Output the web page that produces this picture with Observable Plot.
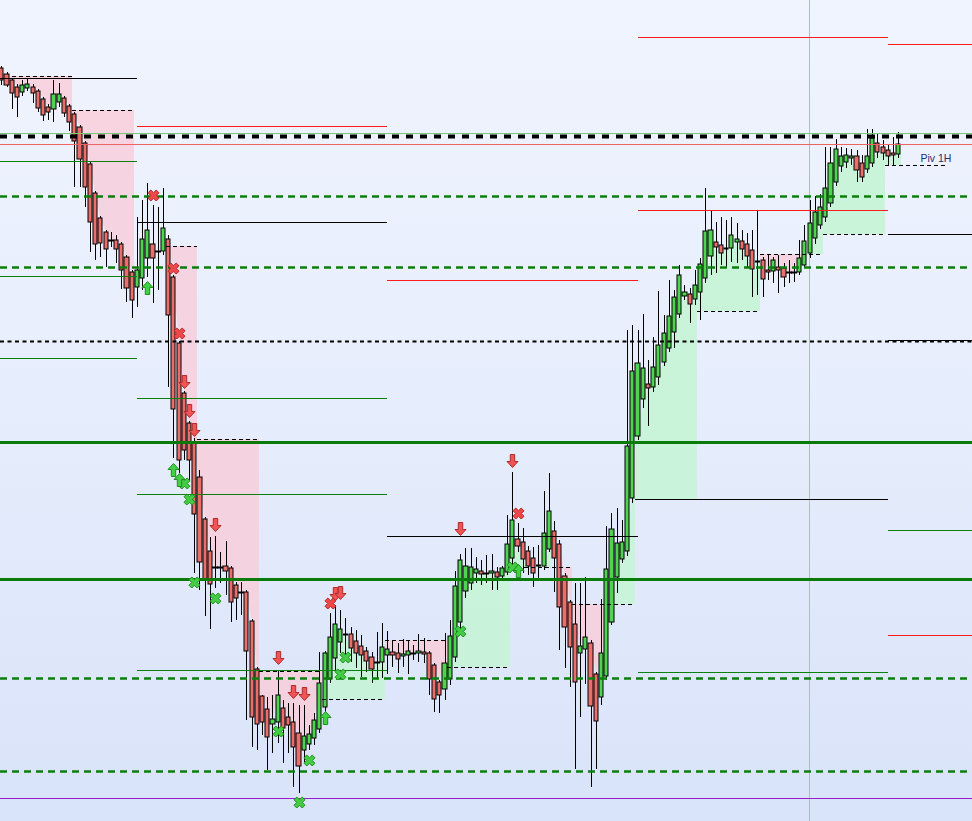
<!DOCTYPE html>
<html>
<head>
<meta charset="utf-8">
<script src="https://cdn.jsdelivr.net/npm/d3@7"></script>
<script src="https://cdn.jsdelivr.net/npm/@observablehq/plot@0.6"></script>
<style>
html,body{margin:0;padding:0;background:#e4ebfb;overflow:hidden}
#chart svg{display:block}
</style>
</head>
<body>
<div id="chart"></div>
<script>
// ---------- Candles (5-minute bars), price in chart units ----------
const open = [
 932,926,920,913,908,912,913,909,901,893,
 891,898,902,894,886,873,857,836,807,782,
 768,760,760,756,743,728,713,722,742,756,
 749,749,761,723,657,607,577,557,523,481,
 449,433,433,434,432,415,408,408,379,331,
 304,291,276,278,292,283,278,267,250,256,
 262,271,293,321,342,358,366,366,359,354,
 349,343,338,338,345,348,347,344,345,347,
 347,348,347,335,318,311,321,343,378,409,
 417,427,429,427,427,428,424,428,442,461,
 458,449,442,435,434,451,469,456,424,398,
 376,347,351,357,326,303,324,378,423,441,
 449,502,564,601,616,613,623,638,652,668,
 686,704,706,701,708,722,744,758,755,751,
 752,758,759,756,750,739,740,730,729,733,
 732,728,728,728,735,747,762,775,783,797,
 818,834,838,842,844,837,831,837,857,853,
 850,847,846];
const high = [
 934,928,922,916,920,921,916,911,903,896,
 920,917,904,896,888,875,859,838,809,784,
 770,768,765,758,745,730,783,800,817,795,
 793,812,765,725,659,609,579,562,530,483,
 463,464,448,459,434,418,418,410,381,333,
 305,303,305,330,300,297,297,295,295,275,
 287,348,349,387,395,390,382,373,370,365,
 353,348,368,377,369,360,357,361,359,355,
 366,362,349,337,320,367,380,429,446,452,
 452,443,440,445,446,433,434,485,528,477,
 472,454,453,455,509,527,479,460,427,400,
 417,417,423,360,328,401,474,487,492,480,
 670,675,670,686,640,663,709,685,720,710,
 735,715,712,730,742,812,790,778,783,780,
 783,777,770,767,770,790,743,745,743,745,
 737,740,737,760,775,800,804,806,853,853,
 861,853,852,851,850,845,871,871,867,860,
 855,863,868];
const low = [
 915,913,891,883,904,909,897,888,879,880,
 878,893,883,869,813,813,793,748,740,743,
 733,753,737,711,698,682,693,710,723,697,
 710,745,613,542,527,540,520,427,410,384,
 371,412,417,405,378,380,385,280,253,250,
 265,230,247,257,237,247,213,207,238,250,
 255,267,288,317,330,347,342,338,332,323,
 328,317,322,322,326,333,327,333,326,340,
 338,337,305,288,287,300,315,338,370,402,
 410,417,415,417,410,410,420,425,433,448,
 427,425,413,420,430,448,408,350,332,313,
 231,283,316,213,231,295,320,375,407,437,
 444,497,560,592,574,608,615,634,648,652,
 682,700,677,695,680,717,725,727,735,733,
 738,737,740,732,703,705,703,720,717,707,
 713,717,718,725,732,742,756,771,778,793,
 814,828,832,835,818,818,827,833,842,840,
 835,835,842];
const close = [
 920,915,907,903,915,916,907,892,885,888,
 906,906,887,878,859,841,813,778,756,757,
 751,760,751,730,712,700,730,761,770,742,
 749,772,685,591,540,550,540,486,438,420,
 416,433,433,429,398,402,408,349,283,276,
 278,263,281,305,272,275,253,234,264,266,
 280,317,347,363,376,371,366,352,347,345,
 339,331,338,353,351,345,341,346,349,347,
 349,346,321,301,305,337,364,414,440,434,
 433,431,426,427,429,423,432,456,480,454,
 441,434,427,435,467,489,442,393,373,353,
 318,354,363,294,279,347,431,471,457,458,
 554,629,637,632,612,633,655,667,684,703,
 725,708,696,715,736,769,770,753,747,752,
 765,761,751,744,731,739,721,728,740,730,
 723,728,728,742,759,777,788,793,812,837,
 851,844,845,844,830,823,844,862,848,847,
 844,845,856];

// ---------- Hourly trailing-stop segments ----------
const segStart = [2,14,32,38,50,62,74,86,98,107,110,116,122,134,146,154,158,170];
const segEnd   = [13,25,37,49,61,73,85,97,105,109,115,121,133,145,153,157,169,172];
const segStop  = [924,890,754,561,329,301,360,333,433,433,396,396,501,689,746,746,766,835];
const segTrend = ["down","down","down","down","down","up","down","up","up","down","down","up","up","up","down","up","up","up"];

const stopLineFrom  = [2,13.5,31.5,37.5,49.5,61.5,73.5,85.5,97.5,109.5,121.5,133.5,145.5,157.5,169.5];
const stopLineTo    = [13.5,25.5,37.5,49.5,61.5,73.5,85.5,97.5,109.5,121.5,133.5,145.5,157.5,169.5,181.5];
const stopLineLevel = [924,890,754,561,329,301,360,333,433,396,501,689,746,766,835];

// ---------- 4-hour pivot levels (period start/end bar, level, kind) ----------
const pivotFrom  = [-0.25,-0.25,-0.25,-0.25, 26,26,26,26,26, 74,74, 122,122,122,122, 170,170,170,170,170];
const pivotTo    = [26,26,26,26, 74,74,74,74,74, 122,122, 170,170,170,170, 186.2,186.2,186.2,186.2,186.2];
const pivotLevel = [922,839,724,642, 874,778,602,506,330, 720,464, 963,790,501,328, 956,766,660,470,365];
const pivotKind  = ["P","S","S","S", "R","P","S","S","S", "R","P", "R","R","P","S", "R","P","P","S","R"];

// ---------- full-width levels ----------
const levelValue = [867,864,856,804,733,659,558,421,322,229,202];
const levelKind  = ["softGreen","mainPivot","softRed","greenDash","greenDash","blackDash","greenSolid","greenSolid","greenDash","greenDash","purple"];

const sessionBreakBar = 154.9;

// ---------- signals ----------
const redCrossBar   = [29,33,34,63,99];
const redCrossPrice = [805,732,667,397,487];
const greenCrossBar   = [35,36,37,41,53,59,57,66,65,88,98];
const greenCrossPrice = [517,501,418,402,269,240,198,343,326,369,433];
const sellArrowBar   = [35,36,37,41,53,56,58,64,65,88,98];
const sellArrowPrice = [618,589,570,475,342,308,306,406,407,471,539];
const buyArrowBar   = [28,33,34,62,99];
const buyArrowPrice = [713,531,521,283,430];

const labelText  = ["Piv 1H"];
const labelBar   = [176.2];
const labelPrice = [842];

// ---------- build tables ----------
const candles = open.map((o, i) => ({i, o, h: high[i], l: low[i], c: close[i]}));
const bodies = candles.filter(d => d.o !== d.c);
const dojis = candles.filter(d => d.o === d.c);

const fillPts = [];
segStart.forEach((s, k) => {
  const e = segEnd[k], stop = segStop[k], up = segTrend[k] === "up";
  const edge = i => up ? Math.min(open[i], close[i]) : Math.max(open[i], close[i]);
  const pts = [{x: s - 0.5, v: edge(s)}];
  for (let i = s; i <= e; i++) pts.push({x: i, v: edge(i)});
  pts.push({x: e + 0.5, v: edge(e)});
  pts.forEach(p => fillPts.push({seg: k, x: p.x, stop, v: p.v, trend: segTrend[k]}));
});

const stopLines = stopLineLevel.map((v, k) => ({from: stopLineFrom[k], to: stopLineTo[k], v}));
const pivots = pivotLevel.map((v, k) => ({from: pivotFrom[k], to: pivotTo[k], v, kind: pivotKind[k]}));
const levels = levelValue.map((v, k) => ({v, kind: levelKind[k]}));
const mk = (bars, prices) => bars.map((b, k) => ({b, p: prices[k]}));

const pivotColor = {P: "#000000", R: "#ff1a1a", S: "#0b800b"};
const levelStyle = {
  softGreen:  {stroke: "#76cc76", w: 1, dash: null},
  mainPivot:  {stroke: "#000000", w: 4, dash: "7,7"},
  softRed:    {stroke: "#ee6464", w: 1, dash: null},
  greenDash:  {stroke: "#0a800a", w: 2.5, dash: "7,5"},
  blackDash:  {stroke: "#000000", w: 2, dash: "4,3.5"},
  greenSolid: {stroke: "#0a7a0a", w: 3, dash: null},
  purple:     {stroke: "#9a1ccc", w: 1, dash: null}
};

// custom marker shapes
const arrowDown = {draw(c) {
  c.moveTo(-2.2,-7); c.lineTo(2.2,-7); c.lineTo(2.2,0); c.lineTo(5.5,0);
  c.lineTo(0,6); c.lineTo(-5.5,0); c.lineTo(-2.2,0); c.closePath();
}};
const arrowUp = {draw(c) {
  c.moveTo(-2.2,7); c.lineTo(2.2,7); c.lineTo(2.2,0); c.lineTo(5.5,0);
  c.lineTo(0,-6); c.lineTo(-5.5,0); c.lineTo(-2.2,0); c.closePath();
}};
const crossX = {draw(c) {
  const L = 5.5, a = 2.8;
  const pts = [[-L,-L+a],[-L+a,-L],[0,-a],[L-a,-L],[L,-L+a],[a,0],[L,L-a],[L-a,L],[0,a],[-L+a,L],[-L,L-a],[-a,0]];
  c.moveTo(pts[0][0], pts[0][1]);
  for (let k = 1; k < pts.length; k++) c.lineTo(pts[k][0], pts[k][1]);
  c.closePath();
}};

const GREEN = "#4fd44f", RED = "#ea6f6b";

const levelMarks = Object.keys(levelStyle).map(kind => {
  const s = levelStyle[kind];
  return Plot.ruleY(levels.filter(d => d.kind === kind), {
    y: "v", stroke: s.stroke, strokeWidth: s.w, strokeDasharray: s.dash ?? undefined
  });
});

const chart = Plot.plot({
  width: 972,
  height: 821,
  margin: 0,
  x: {domain: [-0.25, 186.14], axis: null, round: true},
  y: {domain: [179, 1000], axis: null, round: true},
  style: {background: "linear-gradient(to bottom, #f0f4fe 0%, #e6edfc 50%, #d9e3f9 100%)"},
  marks: [
    Plot.areaY(fillPts.filter(d => d.trend === "down"), {x: "x", y1: "stop", y2: "v", z: "seg", fill: "#f9ccd8", fillOpacity: 0.8}),
    Plot.areaY(fillPts.filter(d => d.trend === "up"), {x: "x", y1: "stop", y2: "v", z: "seg", fill: "#c4f4d4", fillOpacity: 0.85}),
    Plot.ruleX([sessionBreakBar], {stroke: "#d6a9bb", strokeWidth: 1}),
    Plot.ruleX(candles, {x: "i", y1: "l", y2: "h", stroke: "#000", strokeWidth: 1}),
    Plot.rect(bodies, {x1: d => d.i - 0.4, x2: d => d.i + 0.4, y1: "o", y2: "c",
      fill: d => d.c > d.o ? GREEN : RED, stroke: "#000", strokeWidth: 1}),
    Plot.ruleY(dojis, {x1: d => d.i - 0.55, x2: d => d.i + 0.55, y: "o", stroke: "#000", strokeWidth: 2}),
    ...levelMarks,
    Plot.ruleY(pivots, {x1: "from", x2: "to", y: "v", stroke: d => pivotColor[d.kind], strokeWidth: 1}),
    Plot.ruleY(stopLines, {x1: "from", x2: "to", y: "v", stroke: "#000", strokeWidth: 1, strokeDasharray: "4,3"}),
    Plot.dot(mk(redCrossBar, redCrossPrice), {x: "b", y: "p", symbol: crossX, fill: "#f04848", stroke: "#b02828", strokeWidth: 1}),
    Plot.dot(mk(greenCrossBar, greenCrossPrice), {x: "b", y: "p", symbol: crossX, fill: "#44cc44", stroke: "#1f8f1f", strokeWidth: 1}),
    Plot.dot(mk(sellArrowBar, sellArrowPrice), {x: "b", y: "p", symbol: arrowDown, fill: "#f05454", stroke: "#b02a2a", strokeWidth: 1}),
    Plot.dot(mk(buyArrowBar, buyArrowPrice), {x: "b", y: "p", symbol: arrowUp, fill: "#44d044", stroke: "#1f8f1f", strokeWidth: 1}),
    Plot.text(labelText.map((t, k) => ({t, b: labelBar[k], p: labelPrice[k]})), {
      x: "b", y: "p", text: "t", textAnchor: "start", fontSize: 10.5,
      fontFamily: "Liberation Sans, Arial, sans-serif", fill: "#2c2c70"
    })
  ]
});

document.getElementById("chart").appendChild(chart);
</script>
</body>
</html>
